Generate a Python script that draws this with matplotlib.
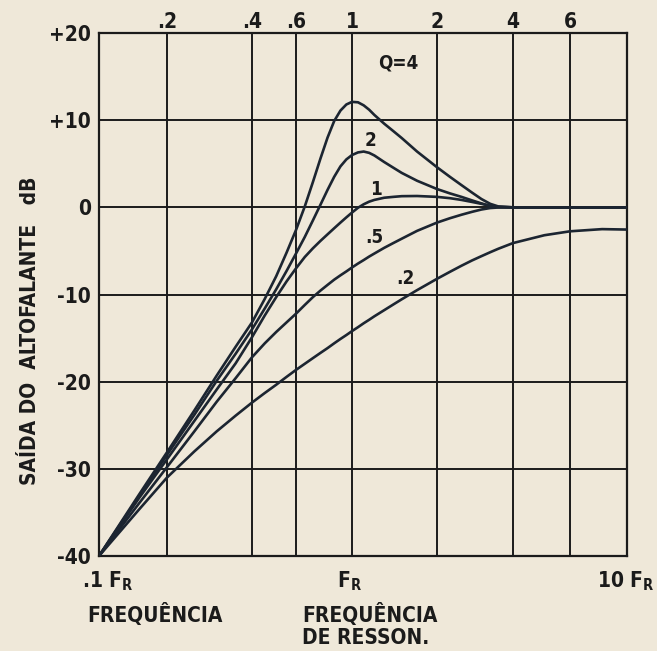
import numpy as np
import matplotlib
matplotlib.use("Agg")
import matplotlib.pyplot as plt

# ---- data -------------------------------------------------------------
freq = [0.1, 0.15, 0.2, 0.25, 0.3, 0.35, 0.4, 0.45, 0.5, 0.55, 0.6, 0.65,
        0.7, 0.75, 0.8, 0.85, 0.9, 0.95, 1.0, 1.05, 1.1, 1.15, 1.2, 1.3,
        1.4, 1.5, 1.7, 2.0, 2.25, 2.5, 2.75, 3.0, 3.25, 3.5, 4.0, 5.0, 6.0,
        8.0, 10.0]

q4 = [-40, -33.0, -28.1, -23.3, -19.3, -16.0, -13.2, -10.5, -7.9, -5.2,
      -2.6, 0.1, 2.9, 5.6, 8.0, 9.9, 11.1, 11.8, 12.1, 12.05, 11.7, 11.2,
      10.6, 9.6, 8.75, 7.95, 6.4, 4.6, 3.5, 2.55, 1.7, 0.95, 0.4, 0.1, 0,
      0, 0, 0, 0]
q2 = [-40, -33.2, -28.4, -23.8, -19.9, -16.8, -14.0, -11.6, -9.4, -7.3,
      -5.3, -3.4, -1.5, 0.3, 2.0, 3.5, 4.7, 5.5, 6.0, 6.3, 6.4, 6.25, 5.95,
      5.2, 4.55, 3.95, 3.05, 2.1, 1.6, 1.2, 0.8, 0.45, 0.15, 0.03, 0, 0, 0,
      0, 0]
q1 = [-40, -33.4, -28.9, -24.5, -20.9, -17.9, -14.9, -12.4, -10.3, -8.5,
      -7.0, -5.7, -4.7, -3.85, -3.1, -2.4, -1.75, -1.15, -0.6, -0.05, 0.35,
      0.65, 0.85, 1.1, 1.2, 1.28, 1.3, 1.2, 1.05, 0.85, 0.62, 0.4, 0.18,
      0.05, 0, 0, 0, 0, 0]
q05 = [-40, -34.0, -29.8, -25.7, -22.3, -19.6, -17.2, -15.6, -14.3, -13.2,
       -12.2, -11.2, -10.3, -9.55, -8.9, -8.3, -7.8, -7.35, -6.9, -6.45,
       -6.05, -5.65, -5.3, -4.65, -4.1, -3.6, -2.7, -1.75, -1.25, -0.85,
       -0.52, -0.25, -0.08, -0.02, 0, 0, 0, 0, 0]
q02 = [-40, -34.7, -31.0, -28.0, -25.7, -23.9, -22.4, -21.3, -20.35, -19.45,
       -18.65, -17.95, -17.3, -16.7, -16.15, -15.6, -15.1, -14.65, -14.2,
       -13.75, -13.3, -12.9, -12.5, -11.8, -11.15, -10.55, -9.5, -8.2, -7.4,
       -6.7, -6.1, -5.6, -5.15, -4.75, -4.1, -3.2, -2.75, -2.5, -2.55]

series = [q4, q2, q1, q05, q02]
curve_labels = ["Q=4", "2", "1", ".5", ".2"]

top_ticks = [0.2, 0.4, 0.6, 1, 2, 4, 6]
top_tick_labels = [".2", ".4", ".6", "1", "2", "4", "6"]
y_ticks = [20, 10, 0, -10, -20, -30, -40]
y_tick_labels = ["+20", "+10", "0", "-10", "-20", "-30", "-40"]

# ---- style -------------------------------------------------------------
PAPER = "#efe8d9"
INK = "#1b1b1b"
CURVE = "#1c2531"
FS = 15

plt.rcParams["font.family"] = ["DejaVu Sans"]
plt.rcParams["font.weight"] = "bold"
plt.rcParams["font.stretch"] = "condensed"
plt.rcParams["mathtext.default"] = "bf"

# hand-ruled logarithmic frequency axis: the decade marks are not evenly spaced
GRID_LOG = np.log10([0.1, 0.2, 0.4, 0.6, 1, 2, 4, 6, 10])
GRID_POS = np.array([99, 167, 252, 296, 352, 437, 513, 570, 627], float)


def _fwd(x):
    lx = np.log10(np.clip(np.asarray(x, float), 1e-6, None))
    out = np.interp(lx, GRID_LOG, GRID_POS)
    out = np.where(lx < GRID_LOG[0], GRID_POS[0] + (lx - GRID_LOG[0]) * 230, out)
    out = np.where(lx > GRID_LOG[-1], GRID_POS[-1] + (lx - GRID_LOG[-1]) * 260, out)
    return out


def _inv(p):
    p = np.asarray(p, float)
    lx = np.interp(p, GRID_POS, GRID_LOG)
    lx = np.where(p < GRID_POS[0], GRID_LOG[0] + (p - GRID_POS[0]) / 230, lx)
    lx = np.where(p > GRID_POS[-1], GRID_LOG[-1] + (p - GRID_POS[-1]) / 260, lx)
    return 10 ** lx


W, H = 657, 651
fig = plt.figure(figsize=(W / 100, H / 100), dpi=100, facecolor=PAPER)
ax = fig.add_axes([99 / W, (H - 556) / H, 528 / W, 523 / H], facecolor=PAPER)

ax.set_xscale("function", functions=(_fwd, _inv))
ax.set_xlim(0.1, 10)
ax.set_ylim(-40, 20)

# grid and tick labels
ax.set_xticks(top_ticks)
ax.set_xticklabels(top_tick_labels)
ax.set_xticks([], minor=True)
ax.set_yticks(y_ticks)
ax.set_yticklabels(y_tick_labels)
ax.grid(True, color=INK, linewidth=1.4)
ax.xaxis.set_ticks_position("top")
ax.tick_params(axis="x", length=0, pad=0.5, labelsize=FS, colors=INK)
ax.tick_params(axis="y", length=0, pad=6, labelsize=FS, colors=INK)
for s in ax.spines.values():
    s.set_color(INK)
    s.set_linewidth(1.6)

# response curves
for vals in series:
    ax.plot(freq, vals, color=CURVE, linewidth=1.9, solid_capstyle="round",
            solid_joinstyle="round", zorder=3)

# curve labels
label_pos = [(1.455, 16.6), (1.167, 7.7), (1.216, 2.0), (1.196, -3.5), (1.541, -8.2)]
for txt, (lx, ly) in zip(curve_labels, label_pos):
    ax.text(lx, ly, txt, ha="center", va="center", fontsize=FS - 1.5,
            color=INK, zorder=4)

# frequency marks under the frame
for x, dx, txt in [(0.1, 9, r".1 F$_R$"), (1, -3, r"F$_R$"), (10, -1, r"10 F$_R$")]:
    ax.annotate(txt, xy=(x, 0), xycoords=("data", "axes fraction"),
                xytext=(dx, -13), textcoords="offset pixels",
                ha="center", va="top", fontsize=FS, color=INK)

fig.text(87 / W, 1 - 603 / H, "FREQUÊNCIA", ha="left", va="top",
         fontsize=FS, color=INK)
fig.text(302 / W, 1 - 603 / H, "FREQUÊNCIA", ha="left", va="top",
         fontsize=FS, color=INK)
fig.text(302 / W, 1 - 628 / H, "DE RESSON.", ha="left", va="top",
         fontsize=FS, color=INK)
fig.text(30 / W, 1 - 331 / H, "SAÍDA DO  ALTOFALANTE   dB", rotation=90,
         ha="center", va="center", fontsize=FS, color=INK)

fig.savefig("out.png", dpi=100, facecolor=PAPER)
